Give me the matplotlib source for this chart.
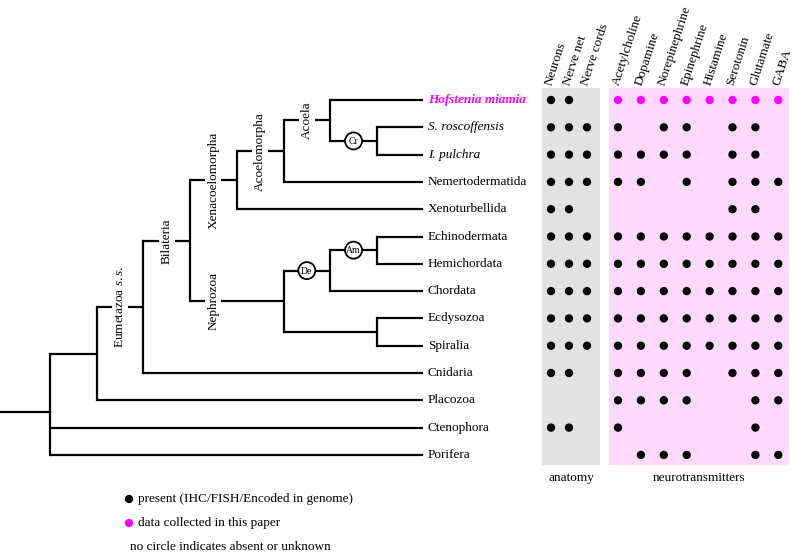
import matplotlib
matplotlib.use("Agg")
import matplotlib.pyplot as plt
from matplotlib.patches import Circle, Rectangle

plt.rcParams['font.family'] = ['Liberation Serif', 'DejaVu Serif']
plt.rcParams['mathtext.fontset'] = 'custom'
plt.rcParams['mathtext.rm'] = 'Liberation Serif'
plt.rcParams['mathtext.it'] = 'Liberation Serif:italic'

# ---------------- data ----------------
taxa = ['Hofstenia miamia', 'S. roscoffensis', 'I. pulchra', 'Nemertodermatida',
        'Xenoturbellida', 'Echinodermata', 'Hemichordata', 'Chordata', 'Ecdysozoa',
        'Spiralia', 'Cnidaria', 'Placozoa', 'Ctenophora', 'Porifera']
anatomy_features = ['Neurons', 'Nerve net', 'Nerve cords']
neurotransmitters = ['Acetylcholine', 'Dopamine', 'Norepinephrine', 'Epinephrine',
                     'Histamine', 'Serotonin', 'Glutamate', 'GABA']
# 1 = present, 0 = absent/unknown
anatomy_presence = [
    [1, 1, 0], [1, 1, 1], [1, 1, 1], [1, 1, 1], [1, 1, 0], [1, 1, 1], [1, 1, 1],
    [1, 1, 1], [1, 1, 1], [1, 1, 1], [1, 1, 0], [0, 0, 0], [1, 1, 0], [0, 0, 0],
]
# 1 = present, 2 = data collected in this paper, 0 = absent/unknown
nt_presence = [
    [2, 2, 2, 2, 2, 2, 2, 2],
    [1, 0, 1, 1, 0, 1, 1, 0],
    [1, 1, 1, 1, 0, 1, 1, 0],
    [1, 1, 0, 1, 0, 1, 1, 1],
    [0, 0, 0, 0, 0, 1, 1, 0],
    [1, 1, 1, 1, 1, 1, 1, 1],
    [1, 1, 1, 1, 1, 1, 1, 1],
    [1, 1, 1, 1, 1, 1, 1, 1],
    [1, 1, 1, 1, 1, 1, 1, 1],
    [1, 1, 1, 1, 1, 1, 1, 1],
    [1, 1, 1, 1, 0, 1, 1, 1],
    [1, 1, 1, 1, 0, 0, 1, 1],
    [1, 0, 0, 0, 0, 0, 1, 0],
    [0, 1, 1, 1, 0, 0, 1, 1],
]
legend_texts = ['present (IHC/FISH/Encoded in genome)', 'data collected in this paper',
                'no circle indicates absent or unknown']

def node(level, children, label=None, circle=None):
    return dict(level=level, children=children, label=label, circle=circle)

tree = node(0, [
    node(1, [
        node(2, [
            node(3, [
                node(4, [
                    node(5, [
                        node(6, ['Hofstenia miamia',
                                 node(7, ['S. roscoffensis', 'I. pulchra'], circle='Cr')],
                             label='Acoela'),
                        'Nemertodermatida'], label='Acoelomorpha'),
                    'Xenoturbellida'], label='Xenacoelomorpha'),
                node(5, [
                    node(6, [node(7, ['Echinodermata', 'Hemichordata'], circle='Am'),
                             'Chordata'], circle='De'),
                    node(7, ['Ecdysozoa', 'Spiralia'])], label='Nephrozoa'),
            ], label='Bilateria'),
            'Cnidaria'], label=r'Eumetazoa $\mathit{s.s.}$'),
        'Placozoa']),
    'Ctenophora', 'Porifera'])

# ---------------- layout ----------------
W, H = 794, 553
fig = plt.figure(figsize=(W / 100, H / 100), dpi=100)
ax = fig.add_axes([0, 0, 1, 1])
ax.set_xlim(0, W)
ax.set_ylim(H, 0)
ax.axis('off')

row0, drow = 100, 27.3
row_y = {t: row0 + i * drow for i, t in enumerate(taxa)}
x0_level, dlevel = 50, 46.7
leaf_x = 423
LW = 1.6
FS = 9.5

def level_x(lv):
    return x0_level + lv * dlevel

def draw(n, parent_x=None):
    if isinstance(n, str):
        return leaf_x, row_y[n]
    x = level_x(n['level'])
    pts = [draw(c, x) for c in n['children']]
    ys = [p[1] for p in pts]
    y = sum(ys) / len(ys)
    ax.plot([x, x], [min(ys), max(ys)], color='black', lw=LW, solid_capstyle='projecting', zorder=2)
    for cx, cy in pts:
        ax.plot([x, cx], [cy, cy], color='black', lw=LW, solid_capstyle='butt', zorder=2)
    if parent_x is not None:
        if n['label']:
            ax.text(parent_x + dlevel / 2, y, n['label'], rotation=90, ha='center', va='center',
                    fontsize=FS, zorder=4,
                    bbox=dict(boxstyle='square,pad=0.15', fc='white', ec='none'))
        if n['circle']:
            cxm = (parent_x + x) / 2
            ax.add_patch(Circle((cxm, y), 8.5, fc='white', ec='black', lw=1.3, zorder=4))
            ax.text(cxm, y + 0.5, n['circle'], ha='center', va='center', fontsize=7, zorder=5)
    return x, y

rx, ry = draw(tree)
ax.plot([0, rx], [ry, ry], color='black', lw=LW, zorder=2)

# tip labels
for t in taxa:
    kw = dict(fontsize=FS, va='center', ha='left')
    if t == 'Hofstenia miamia':
        kw.update(color='#ff00ff', style='italic', weight='bold')
    elif t in ('S. roscoffensis', 'I. pulchra'):
        kw.update(style='italic')
    ax.text(leaf_x + 5, row_y[t], t, **kw)

# panels
panel_top, panel_bot = 88, 465
ax.add_patch(Rectangle((542, panel_top), 58, panel_bot - panel_top, fc='#e2e2e2', ec='none', zorder=0))
ax.add_patch(Rectangle((609, panel_top), 180, panel_bot - panel_top, fc='#ffd9ff', ec='none', zorder=0))

anat_x = [551 + j * 18 for j in range(len(anatomy_features))]
nt_x = [618 + j * 22.9 for j in range(len(neurotransmitters))]

colors = {1: 'black', 2: '#ff00ff'}
for i, t in enumerate(taxa):
    for j, v in enumerate(anatomy_presence[i]):
        if v:
            ax.scatter(anat_x[j], row_y[t], s=36, color=colors[v], edgecolors='none', zorder=3)
    for j, v in enumerate(nt_presence[i]):
        if v:
            ax.scatter(nt_x[j], row_y[t], s=36, color=colors[v], edgecolors='none', zorder=3)

# column headers
for name, x in list(zip(anatomy_features, anat_x)) + list(zip(neurotransmitters, nt_x)):
    ax.text(x + 1, 86, name, rotation=72, rotation_mode='anchor', ha='left', va='baseline',
            fontsize=FS)

ax.text(571, 478, 'anatomy', ha='center', va='center', fontsize=FS)
ax.text(699, 478, 'neurotransmitters', ha='center', va='center', fontsize=FS)

# legend
ax.scatter(129, 499, s=36, color='black', edgecolors='none')
ax.scatter(129, 523, s=36, color='#ff00ff', edgecolors='none')
ax.text(138, 499, legend_texts[0], ha='left', va='center', fontsize=FS)
ax.text(138, 523, legend_texts[1], ha='left', va='center', fontsize=FS)
ax.text(130, 547, legend_texts[2], ha='left', va='center', fontsize=FS)

fig.savefig('out.png', dpi=100)
